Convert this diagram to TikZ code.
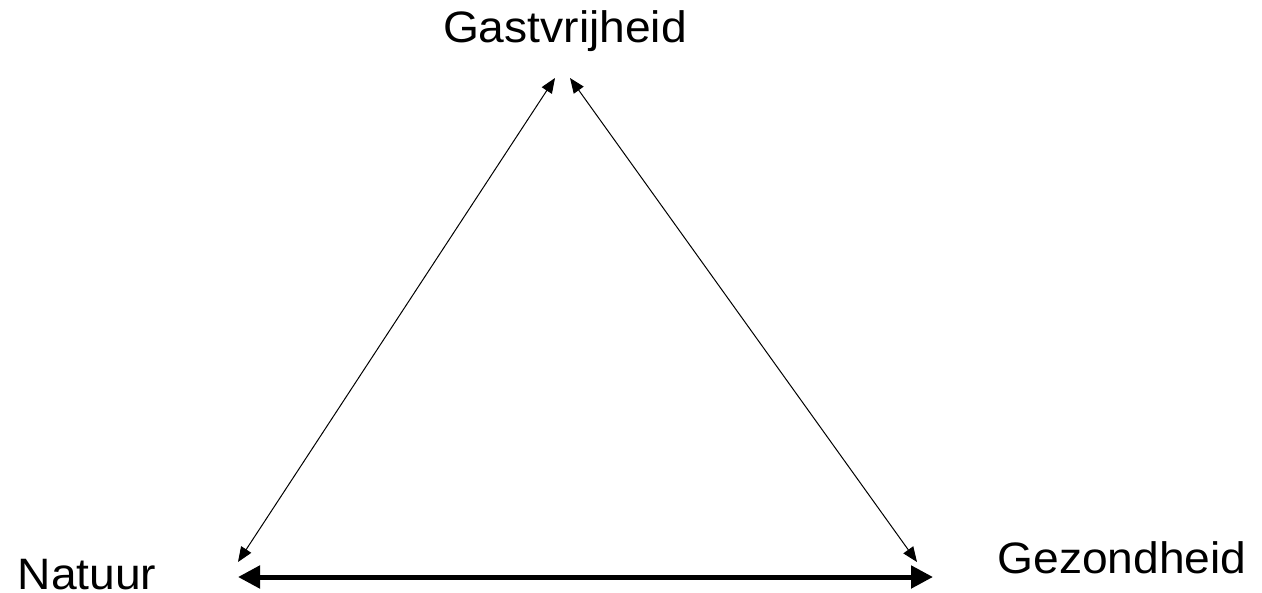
\documentclass[tikz,border=0pt]{standalone}
\usepackage{fontspec}
\newfontfamily\labelfont[FakeStretch=1.05]{Liberation Sans}
\usetikzlibrary{arrows.meta, positioning}

\begin{document}
\begin{tikzpicture}[
    x=0.5pt, y=-0.5pt,
    corner/.style={anchor=base, inner sep=0pt, font=\labelfont\fontsize{22pt}{26pt}\selectfont},
    link/.style={{Triangle[length=7.5pt, width=6pt]}-{Triangle[length=7.5pt, width=6pt]}, line width=0.5pt},
    strong/.style={{Triangle[length=11pt, width=11pt]}-{Triangle[length=11pt, width=11pt]}, line width=2.5pt}
]
    \useasboundingbox (0,0) rectangle (1262,593);

    \node[corner] (gast) at (565,43) {Gastvrijheid};
    \node[corner] (nat) at (87,589) {Natuur};
    \node[corner] (gez) at (1122,573) {Gezondheid};

    % ends of the connectors
    \coordinate (gast-l) at (555,78);
    \coordinate (gast-r) at (570,78);
    \coordinate (nat-t) at (238,562);
    \coordinate (nat-r) at (238,577);
    \coordinate (gez-t) at (917,562);
    \coordinate (gez-l) at (933,577);

    \draw[link] (nat-t) -- (gast-l);
    \draw[link] (gast-r) -- (gez-t);
    \draw[strong] (nat-r) -- (gez-l);
\end{tikzpicture}
\end{document}
